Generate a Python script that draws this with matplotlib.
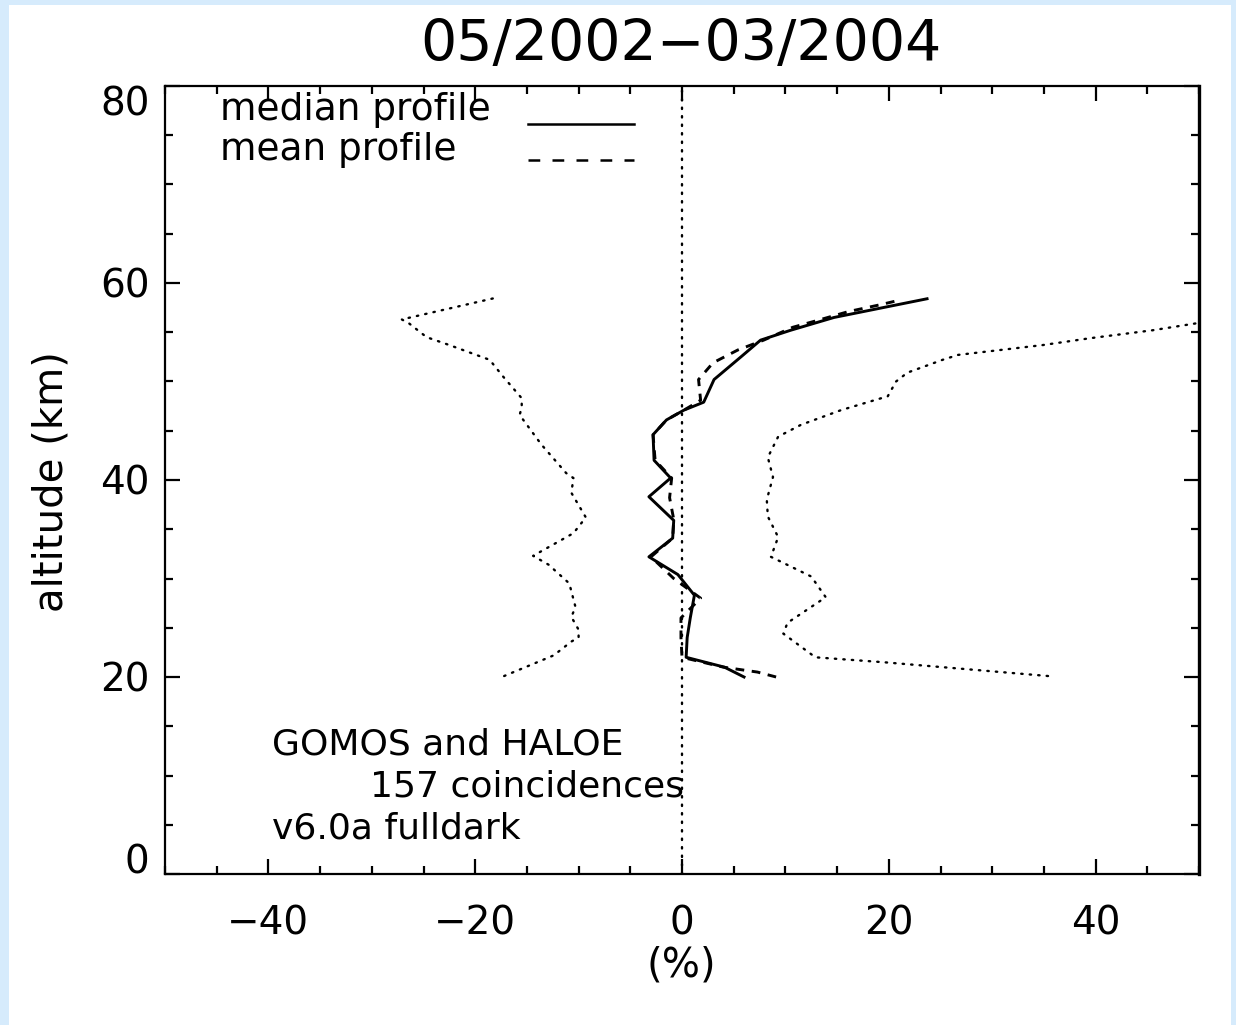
import numpy as np
import matplotlib.pyplot as plt
from matplotlib.patches import Rectangle

# median profile (solid)
median_alt = [20.0, 21.0, 22.0, 24.0, 26.0, 28.3, 30.4, 32.2, 34.1, 35.9, 38.3, 40.2,
              42.0, 44.6, 46.1, 47.1, 47.9, 50.2, 52.5, 54.2, 55.2, 56.5, 58.4]
median_pct = [6.0, 4.1, 0.4, 0.5, 0.8, 1.2, -0.4, -3.2, -0.9, -0.8, -3.2, -1.1,
              -2.7, -2.8, -1.5, 0.2, 2.1, 3.1, 5.7, 7.6, 10.5, 14.7, 23.7]

# mean profile (dashed)
mean_alt = [20.0, 20.5, 21.0, 22.0, 24.0, 26.0, 28.0, 30.0, 32.2, 34.1, 36.0, 38.2, 40.2,
            42.0, 44.6, 46.1, 47.1, 48.1, 50.2, 51.9, 53.2, 54.2, 55.5, 56.2, 57.1, 57.8, 58.3]
mean_pct = [9.1, 7.3, 4.0, 0.0, -0.1, -0.1, 1.8, -0.8, -3.0, -0.9, -0.8, -1.2, -1.0,
            -2.6, -2.8, -1.5, 0.2, 1.8, 1.6, 3.0, 5.4, 7.9, 10.7, 13.1, 16.1, 19.2, 21.2]

# spread (dotted), lower and upper
low_alt = [20.1, 22.2, 23.6, 24.0, 24.8, 26.1, 27.1, 29.5, 31.4, 32.3, 34.6, 36.2, 38.7,
           40.2, 40.7, 43.6, 46.6, 47.4, 48.3, 50.5, 52.2, 53.7, 54.5, 55.9, 56.3, 58.5]
low_pct = [-17.2, -12.4, -10.7, -10.0, -10.0, -10.7, -10.3, -10.9, -12.9, -14.4, -10.5, -9.3, -10.7,
           -10.5, -11.2, -13.6, -15.7, -15.5, -15.5, -17.3, -18.6, -22.5, -24.7, -26.4, -27.1, -18.0]

up_alt = [20.1, 21.5, 22.0, 24.4, 25.5, 28.1, 30.2, 32.2, 34.2, 36.3, 38.0, 40.3, 42.3, 44.4,
          45.6, 47.1, 48.5, 50.0, 50.9, 52.2, 52.7, 53.2, 53.7, 54.4, 55.2, 55.9, 57.0, 58.5]
up_pct = [35.4, 19.5, 12.9, 9.8, 10.2, 13.9, 12.5, 8.6, 9.3, 8.3, 8.2, 8.8, 8.3, 9.3,
          11.5, 15.4, 19.9, 20.7, 21.8, 25.2, 26.7, 30.8, 34.9, 39.5, 45.5, 49.7, 57.0, 64.0]

xticks = [-40, -20, 0, 20, 40]
yticks = [0, 20, 40, 60, 80]

plt.rcParams['font.family'] = 'DejaVu Sans'

fig = plt.figure(figsize=(12.36, 10.25), dpi=100, facecolor='#d6ebfc')
fig.patches.append(Rectangle((9 / 1236, 0), 1222 / 1236, 1020 / 1025,
                             transform=fig.transFigure, facecolor='white',
                             edgecolor='none', zorder=-10))

ax = fig.add_axes([165 / 1236, 1 - 874 / 1025, 1034 / 1236, 788 / 1025])
ax.set_zorder(5)
ax.set_facecolor('white')

dots = dict(color='black', lw=1.7, linestyle=(0, (0.6, 3.0)), dash_capstyle='round')
ax.plot([0, 0], [0, 80], **dots)
ax.plot(low_pct, low_alt, **dots)
ax.plot(up_pct, up_alt, **dots)

ax.plot(median_pct, median_alt, color='black', lw=2.1)
ax.plot(mean_pct, mean_alt, color='black', lw=2.1, linestyle=(0, (3.0, 2.6)))

# legend drawn IDL-style
ax.text(-44.7, 77.6, 'median profile', fontsize=27, va='center', ha='left')
ax.text(-44.7, 73.5, 'mean profile', fontsize=27, va='center', ha='left')
ax.plot([-14.9, -4.6], [76.1, 76.1], color='black', lw=1.8)
ax.plot([-14.9, -4.6], [72.5, 72.5], color='black', lw=1.8, linestyle=(0, (4.7, 4.9)))

ax.text(-39.7, 13.1, 'GOMOS and HALOE', fontsize=26, va='center', ha='left')
ax.text(-30.2, 8.9, '157 coincidences', fontsize=26, va='center', ha='left')
ax.text(-39.7, 4.6, 'v6.0a fulldark', fontsize=26, va='center', ha='left')

ax.set_xlim(-50, 50)
ax.set_ylim(0, 80)
ax.set_xticks(xticks)
ax.set_xticklabels(['\u2212%d' % -v if v < 0 else '%d' % v for v in xticks])
ax.set_yticks(yticks)
ax.set_xticks(np.arange(-50, 51, 5), minor=True)
ax.set_yticks(np.arange(0, 81, 5), minor=True)
ax.tick_params(which='both', direction='in', top=True, right=True, width=1.6)
ax.tick_params(which='major', length=10.5)
ax.tick_params(which='minor', length=5.5)
ax.tick_params(axis='x', which='major', labelsize=28, pad=22)
ax.tick_params(axis='y', which='major', labelsize=28, pad=11)
ylab = ax.get_yticklabels()
ylab[0].set_va('baseline')
ylab[-1].set_va('top')
for s in ax.spines.values():
    s.set_linewidth(1.6)
ax.spines['right'].set_linewidth(2.4)

fig.text(681 / 1236, 1 - 45 / 1025, '05/2002\u221203/2004', fontsize=41,
         ha='center', va='center')
fig.text(52 / 1236, 1 - 482 / 1025, 'altitude (km)', fontsize=29, rotation=90,
         ha='center', va='center')
fig.text(681 / 1236, 1 - 965 / 1025, '(%)', fontsize=29, ha='center', va='center')

fig.savefig('out.png', dpi=100, facecolor=fig.get_facecolor())
